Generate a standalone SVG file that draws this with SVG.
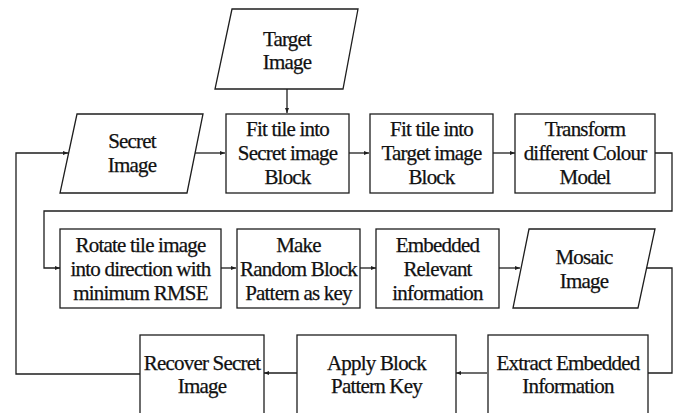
<svg xmlns="http://www.w3.org/2000/svg" width="678" height="413" viewBox="0 0 678 413">
<style>
.s{fill:#fff;stroke:#1e1e1e;stroke-width:1.3}
.c{fill:none;stroke:#1e1e1e;stroke-width:1.3}
.t text{font-size:21px;letter-spacing:-0.8px;fill:#111;stroke:#111;stroke-width:0.25;text-anchor:middle}
</style>
<defs>
<marker id="a" viewBox="0 0 10 10" refX="10" refY="5" markerWidth="5" markerHeight="5" orient="auto" markerUnits="userSpaceOnUse">
<path d="M0,1 L10,5 L0,9 Z" fill="#1e1e1e"/>
</marker>
</defs>
<rect width="678" height="413" fill="#fff"/>
<g id="connectors">
<path class="c" d="M287,89 V113" marker-end="url(#a)"/>
<path class="c" d="M195,153 H225" marker-end="url(#a)"/>
<path class="c" d="M349,153 H369" marker-end="url(#a)"/>
<path class="c" d="M493,153 H515" marker-end="url(#a)"/>
<path class="c" d="M655,153 H672 V211 H44 V268 H60" marker-end="url(#a)"/>
<path class="c" d="M221,268 H236" marker-end="url(#a)"/>
<path class="c" d="M360,268 H376" marker-end="url(#a)"/>
<path class="c" d="M499,268 H520" marker-end="url(#a)"/>
<path class="c" d="M647,268 H672 V373 H648"/>
<path class="c" d="M487,373 H456" marker-end="url(#a)"/>
<path class="c" d="M297,373 H264" marker-end="url(#a)"/>
<path class="c" d="M140,374 H16 V153 H68" marker-end="url(#a)"/>
</g>
<g class="t" font-family="Liberation Serif, serif">
<g id="target-image">
<polygon class="s" points="232,9 358,9 343,89 215,89"/>
<text x="287" y="46">Target</text>
<text x="287" y="69">Image</text>
</g>
<g id="secret-image">
<polygon class="s" points="77,114 203,114 187,193 60,193"/>
<text x="132" y="148">Secret</text>
<text x="132" y="172">Image</text>
</g>
<g id="fit-secret">
<rect class="s" x="226" y="114" width="123" height="79"/>
<text x="287.5" y="136">Fit tile into</text>
<text x="287.5" y="160">Secret image</text>
<text x="287.5" y="184">Block</text>
</g>
<g id="fit-target">
<rect class="s" x="370" y="114" width="123" height="79"/>
<text x="431.5" y="136">Fit tile into</text>
<text x="431.5" y="160">Target image</text>
<text x="431.5" y="184">Block</text>
</g>
<g id="transform">
<rect class="s" x="515" y="114" width="140" height="79"/>
<text x="585" y="136">Transform</text>
<text x="585" y="160">different Colour</text>
<text x="585" y="184">Model</text>
</g>
<g id="rotate">
<rect class="s" x="60" y="229" width="161" height="79"/>
<text x="140.5" y="252">Rotate tile image</text>
<text x="140.5" y="276">into direction with</text>
<text x="140.5" y="300">minimum RMSE</text>
</g>
<g id="make">
<rect class="s" x="237" y="229" width="123" height="79"/>
<text x="298.5" y="252">Make</text>
<text x="298.5" y="276">Random Block</text>
<text x="298.5" y="300">Pattern as key</text>
</g>
<g id="embedded">
<rect class="s" x="376" y="229" width="123" height="79"/>
<text x="437.5" y="252">Embedded</text>
<text x="437.5" y="276">Relevant</text>
<text x="437.5" y="300">information</text>
</g>
<g id="mosaic">
<polygon class="s" points="529,229 655,229 638,308 513,308"/>
<text x="584" y="264">Mosaic</text>
<text x="584" y="288">Image</text>
</g>
<g id="extract">
<rect class="s" x="488" y="335" width="160" height="90"/>
<text x="568" y="370">Extract Embedded</text>
<text x="568" y="393">Information</text>
</g>
<g id="apply">
<rect class="s" x="297" y="335" width="159" height="90"/>
<text x="376.5" y="370">Apply Block</text>
<text x="376.5" y="393">Pattern Key</text>
</g>
<g id="recover">
<rect class="s" x="140" y="335" width="124" height="90"/>
<text x="202" y="370">Recover Secret</text>
<text x="202" y="393">Image</text>
</g>
</g>
</svg>
